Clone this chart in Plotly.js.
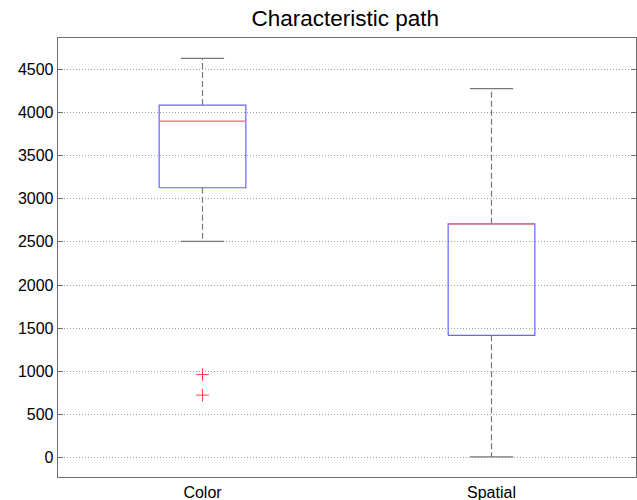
<!DOCTYPE html>
<html>
<head>
<meta charset="utf-8">
<script src="https://cdn.plot.ly/plotly-3.0.1.min.js"></script>
<style>html,body{margin:0;padding:0;background:#fff;}#chart{width:637px;height:500px;}</style>
</head>
<body>
<div id="chart"></div>
<script>
var categories = ["Color", "Spatial"];
var lowerWhisker = [2505, 10];
var q1 = [3126, 1417];
var median = [3897, 2708];
var q3 = [4083, 2708];
var upperWhisker = [4625, 4274];
var outliers = [[963, 725], []];
var yTickVals = [0, 500, 1000, 1500, 2000, 2500, 3000, 3500, 4000, 4500];

var boxHalf = 0.15, capHalf = 0.075;
var traces = [];
var gray = "rgb(120,120,120)";
categories.forEach(function (c, i) {
  var x = i + 1;
  traces.push({x: [x, x, null, x, x], y: [q3[i], upperWhisker[i], null, q1[i], lowerWhisker[i]],
    mode: "lines", line: {color: gray, width: 1.2, dash: "6px,3px"}, hoverinfo: "skip"});
  traces.push({x: [x - capHalf, x + capHalf, null, x - capHalf, x + capHalf],
    y: [upperWhisker[i], upperWhisker[i], null, lowerWhisker[i], lowerWhisker[i]],
    mode: "lines", line: {color: gray, width: 1.2}, hoverinfo: "skip"});
  traces.push({x: [x - boxHalf, x + boxHalf, x + boxHalf, x - boxHalf, x - boxHalf],
    y: [q1[i], q1[i], q3[i], q3[i], q1[i]],
    mode: "lines", line: {color: "rgb(100,100,255)", width: 1.2}, hoverinfo: "skip"});
  traces.push({x: [x - boxHalf, x + boxHalf], y: [median[i], median[i]],
    mode: "lines", line: {color: "rgb(255,100,100)", width: 1.2}, hoverinfo: "skip"});
  if (outliers[i].length) {
    traces.push({x: outliers[i].map(function () { return x; }), y: outliers[i],
      mode: "markers", marker: {symbol: "cross-thin-open", size: 9, color: "rgb(255,60,60)", line: {color: "rgb(255,60,60)", width: 1}},
      hoverinfo: "skip"});
  }
});

var layout = {
  width: 637, height: 500,
  margin: {l: 58, r: 1, t: 38, b: 23},
  paper_bgcolor: "#fff", plot_bgcolor: "#fff",
  showlegend: false,
  font: {family: "Liberation Sans, Arial, sans-serif", color: "#000", size: 16},
  title: {text: "Characteristic path", font: {size: 22.5, color: "#000"}, x: 0.542, xanchor: "center", y: 0.963, yanchor: "middle"},
  xaxis: {
    range: [0.5, 2.5], tickvals: [1, 2], ticktext: categories, ticks: "",
    showgrid: false, zeroline: false, showline: true, linecolor: "rgb(110,110,110)", linewidth: 1.3,
    mirror: true, tickfont: {size: 16, color: "#000"}, fixedrange: true
  },
  yaxis: {
    range: [-223, 4860], tickvals: yTickVals, ticktext: yTickVals.map(String),
    ticks: "inside", ticklen: 5, tickcolor: "rgb(110,110,110)",
    showgrid: true, gridcolor: "rgb(160,160,160)", griddash: "1px,2px", gridwidth: 1,
    zeroline: false, showline: true, linecolor: "rgb(110,110,110)", linewidth: 1.3,
    mirror: "ticks", tickfont: {size: 16, color: "#000"}, fixedrange: true
  }
};

Plotly.newPlot("chart", traces, layout, {displayModeBar: false, staticPlot: true});
</script>
</body>
</html>
